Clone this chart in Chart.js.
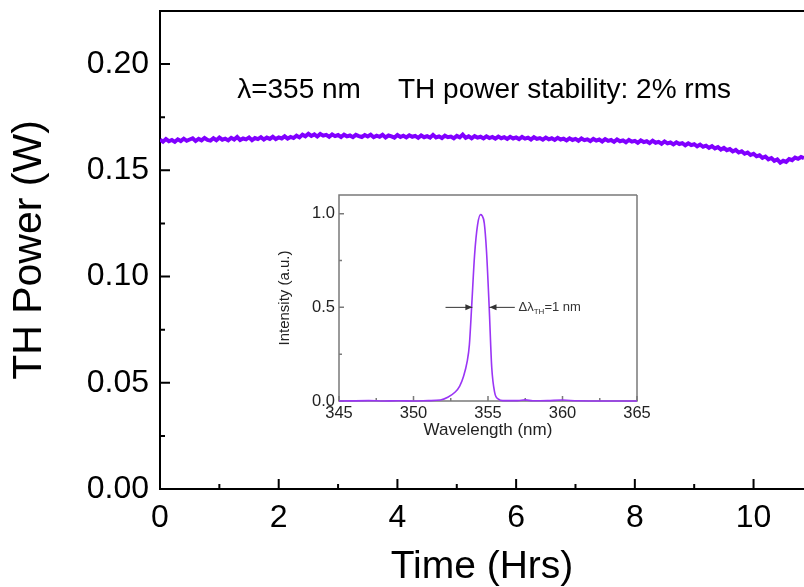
<!DOCTYPE html>
<html>
<head>
<meta charset="utf-8">
<title>TH power stability</title>
<script src="https://cdn.jsdelivr.net/npm/chart.js@4.4.1/dist/chart.umd.min.js"></script>
<style>
    body { margin: 0; background: #fff; overflow: hidden; }
    .wrap { position: relative; width: 804px; height: 587px; }
    .main { position: absolute; left: 0; top: 0; width: 804px; height: 587px; }
    .inset { position: absolute; left: 270px; top: 185px; width: 380px; height: 262px; }
</style>
</head>
<body>
<div class="wrap">
    <div class="main"><canvas id="chart"></canvas></div>
    <div class="inset"><canvas id="inset"></canvas></div>
</div>
<script>
// main curve: TH power over time (read every 0.05 h)
const hours = [0, 0.05, 0.1, 0.15, 0.2, 0.25, 0.3, 0.35, 0.4, 0.45,
    0.5, 0.55, 0.6, 0.65, 0.7, 0.75, 0.8, 0.85, 0.9, 0.95,
    1.0, 1.05, 1.1, 1.15, 1.2, 1.25, 1.3, 1.35, 1.4, 1.45,
    1.5, 1.55, 1.6, 1.65, 1.7, 1.75, 1.8, 1.85, 1.9, 1.95,
    2.0, 2.05, 2.1, 2.15, 2.2, 2.25, 2.3, 2.35, 2.4, 2.45,
    2.5, 2.55, 2.6, 2.65, 2.7, 2.75, 2.8, 2.85, 2.9, 2.95,
    3.0, 3.05, 3.1, 3.15, 3.2, 3.25, 3.3, 3.35, 3.4, 3.45,
    3.5, 3.55, 3.6, 3.65, 3.7, 3.75, 3.8, 3.85, 3.9, 3.95,
    4.0, 4.05, 4.1, 4.15, 4.2, 4.25, 4.3, 4.35, 4.4, 4.45,
    4.5, 4.55, 4.6, 4.65, 4.7, 4.75, 4.8, 4.85, 4.9, 4.95,
    5.0, 5.05, 5.1, 5.15, 5.2, 5.25, 5.3, 5.35, 5.4, 5.45,
    5.5, 5.55, 5.6, 5.65, 5.7, 5.75, 5.8, 5.85, 5.9, 5.95,
    6.0, 6.05, 6.1, 6.15, 6.2, 6.25, 6.3, 6.35, 6.4, 6.45,
    6.5, 6.55, 6.6, 6.65, 6.7, 6.75, 6.8, 6.85, 6.9, 6.95,
    7.0, 7.05, 7.1, 7.15, 7.2, 7.25, 7.3, 7.35, 7.4, 7.45,
    7.5, 7.55, 7.6, 7.65, 7.7, 7.75, 7.8, 7.85, 7.9, 7.95,
    8.0, 8.05, 8.1, 8.15, 8.2, 8.25, 8.3, 8.35, 8.4, 8.45,
    8.5, 8.55, 8.6, 8.65, 8.7, 8.75, 8.8, 8.85, 8.9, 8.95,
    9.0, 9.05, 9.1, 9.15, 9.2, 9.25, 9.3, 9.35, 9.4, 9.45,
    9.5, 9.55, 9.6, 9.65, 9.7, 9.75, 9.8, 9.85, 9.9, 9.95,
    10.0, 10.05, 10.1, 10.15, 10.2, 10.25, 10.3, 10.35, 10.4, 10.45,
    10.5, 10.55, 10.6, 10.65, 10.7, 10.75, 10.8, 10.85];
const thPower = [0.1644, 0.1635, 0.1647, 0.1637, 0.1643, 0.1634, 0.1646, 0.1638, 0.1649, 0.1639,
    0.1645, 0.1651, 0.1638, 0.1648, 0.1641, 0.1652, 0.1643, 0.1640, 0.1651, 0.1642,
    0.1654, 0.1644, 0.1649, 0.1641, 0.1653, 0.1645, 0.1657, 0.1643, 0.1650, 0.1646,
    0.1655, 0.1642, 0.1652, 0.1647, 0.1656, 0.1645, 0.1654, 0.1648, 0.1658, 0.1647,
    0.1655, 0.1650, 0.1660, 0.1649, 0.1657, 0.1652, 0.1663, 0.1655, 0.1668, 0.1660,
    0.1672, 0.1662, 0.1669, 0.1659, 0.1671, 0.1663, 0.1667, 0.1658, 0.1669, 0.1661,
    0.1666, 0.1657, 0.1668, 0.1660, 0.1664, 0.1656, 0.1667, 0.1661, 0.1657, 0.1666,
    0.1659, 0.1668, 0.1656, 0.1663, 0.1658, 0.1667, 0.1655, 0.1664, 0.1660, 0.1654,
    0.1666, 0.1657, 0.1663, 0.1655, 0.1665, 0.1658, 0.1662, 0.1653, 0.1664, 0.1656,
    0.1661, 0.1654, 0.1667, 0.1655, 0.1660, 0.1652, 0.1663, 0.1656, 0.1659, 0.1651,
    0.1662, 0.1655, 0.1668, 0.1653, 0.1660, 0.1651, 0.1661, 0.1654, 0.1658, 0.1650,
    0.1660, 0.1652, 0.1657, 0.1649, 0.1659, 0.1651, 0.1656, 0.1648, 0.1658, 0.1650,
    0.1655, 0.1647, 0.1657, 0.1649, 0.1654, 0.1645, 0.1656, 0.1648, 0.1652, 0.1644,
    0.1654, 0.1646, 0.1651, 0.1643, 0.1653, 0.1645, 0.1649, 0.1641, 0.1651, 0.1643,
    0.1648, 0.1639, 0.1650, 0.1642, 0.1646, 0.1638, 0.1648, 0.1640, 0.1645, 0.1636,
    0.1647, 0.1639, 0.1643, 0.1634, 0.1645, 0.1637, 0.1641, 0.1632, 0.1643, 0.1635,
    0.1639, 0.1630, 0.1641, 0.1633, 0.1637, 0.1628, 0.1639, 0.1630, 0.1634, 0.1625,
    0.1636, 0.1627, 0.1631, 0.1622, 0.1632, 0.1624, 0.1628, 0.1618, 0.1627, 0.1619,
    0.1623, 0.1613, 0.1621, 0.1611, 0.1616, 0.1606, 0.1614, 0.1603, 0.1609, 0.1598,
    0.1606, 0.1595, 0.1600, 0.1589, 0.1596, 0.1584, 0.1590, 0.1578, 0.1584, 0.1572,
    0.1578, 0.1566, 0.1571, 0.1559, 0.1565, 0.1552, 0.1558, 0.1545, 0.1551, 0.1536,
    0.1545, 0.1540, 0.1553, 0.1548, 0.1560, 0.1554, 0.1563, 0.1557];
const hourTicks = [0, 1, 2, 3, 4, 5, 6, 7, 8, 9, 10];
const powerTicks = [0, 0.025, 0.05, 0.075, 0.1, 0.125, 0.15, 0.175, 0.2];

// inset: TH spectrum
const wavelength = [345, 347, 348, 349, 350, 351, 351.8, 352.3, 352.8, 353.1, 353.35, 353.6, 353.75, 353.9,
    354.1, 354.3, 354.5, 354.6, 354.75, 354.9, 355.08, 355.25, 355.45, 355.7, 356,
    357, 357.5, 358, 359, 360, 361, 363, 365];
const intensity = [0, 0.002, 0, 0.001, 0, 0.002, 0.005, 0.02, 0.048, 0.08, 0.13, 0.21, 0.3, 0.5,
    0.78, 0.94, 0.995, 0.99, 0.95, 0.8, 0.5, 0.18, 0.045, 0.01, 0.002,
    0.002, 0.006, 0.001, 0.002, 0.005, 0.001, 0, 0];
const wavelengthTicks = [345, 347.5, 350, 352.5, 355, 357.5, 360, 362.5, 365];
const intensityTicks = [0, 0.25, 0.5, 0.75, 1.0];

const FONT = "'Liberation Sans', Arial, sans-serif";

// ticks pointing into the plot + frame lines
const inwardTicks = {
    id: 'inwardTicks',
    beforeDatasetsDraw(chart, args, opts) {
        const { ctx, chartArea: a, scales } = chart;
        ctx.save();
        ctx.strokeStyle = opts.color;
        ctx.lineWidth = opts.width;
        ctx.beginPath();
        scales.x.ticks.forEach(t => {
            const x = scales.x.getPixelForValue(t.value);
            const len = t.label !== '' ? opts.major : opts.minor;
            ctx.moveTo(x, a.bottom);
            ctx.lineTo(x, a.bottom - len);
        });
        scales.y.ticks.forEach(t => {
            const y = scales.y.getPixelForValue(t.value);
            const len = t.label !== '' ? opts.major : opts.minor;
            ctx.moveTo(a.left, y);
            ctx.lineTo(a.left + len, y);
        });
        ctx.stroke();
        ctx.beginPath();
        ctx.moveTo(a.right, a.top);
        ctx.lineTo(a.left, a.top);
        ctx.lineTo(a.left, a.bottom);
        ctx.lineTo(a.right, a.bottom);
        if (opts.closed) ctx.lineTo(a.right, a.top);
        ctx.stroke();
        ctx.restore();
    }
};

const notes = {
    id: 'notes',
    afterDraw(chart, args, opts) {
        const { ctx, scales } = chart;
        ctx.save();
        ctx.fillStyle = '#000';
        ctx.font = opts.font;
        ctx.textBaseline = 'middle';
        opts.items.forEach(n => {
            ctx.fillText(n.text, scales.x.getPixelForValue(n.x), scales.y.getPixelForValue(n.y));
        });
        ctx.restore();
    }
};

const fwhmArrows = {
    id: 'fwhmArrows',
    afterDatasetsDraw(chart, args, opts) {
        const { ctx, scales } = chart;
        const y = scales.y.getPixelForValue(opts.level);
        const arrow = (from, to) => {
            const x1 = scales.x.getPixelForValue(from);
            const x2 = scales.x.getPixelForValue(to);
            const dir = Math.sign(x2 - x1);
            ctx.beginPath();
            ctx.moveTo(x1, y);
            ctx.lineTo(x2, y);
            ctx.stroke();
            ctx.beginPath();
            ctx.moveTo(x2, y);
            ctx.lineTo(x2 - dir * 7, y - 3);
            ctx.lineTo(x2 - dir * 7, y + 3);
            ctx.closePath();
            ctx.fill();
        };
        ctx.save();
        ctx.strokeStyle = '#333';
        ctx.fillStyle = '#333';
        ctx.lineWidth = 1;
        arrow(opts.left[0], opts.left[1]);
        arrow(opts.right[0], opts.right[1]);
        let x = scales.x.getPixelForValue(opts.textAt);
        ctx.textBaseline = 'middle';
        ctx.font = `13px ${FONT}`;
        ctx.fillText('\u0394\u03bb', x, y);
        x += ctx.measureText('\u0394\u03bb').width;
        ctx.font = `8px ${FONT}`;
        ctx.fillText('TH', x, y + 4);
        x += ctx.measureText('TH').width;
        ctx.font = `13px ${FONT}`;
        ctx.fillText('=1 nm', x, y);
        ctx.restore();
    }
};

// drop the label-overflow padding so the plot frame lands where the layout padding says
const noEdgePadding = s => {
    s.paddingTop = 0;
    s.paddingBottom = 0;
    s.paddingLeft = 0;
    s.paddingRight = 0;
};

const chart = document.querySelector('#chart').getContext('2d');
new Chart(chart, {
    type: 'line',
    data: {
        datasets: [{
            data: hours.map((h, i) => ({ x: h, y: thPower[i] })),
            borderColor: '#8000ff',
            borderWidth: 4,
            pointRadius: 0,
            tension: 0,
            fill: false,
        }]
    },
    options: {
        responsive: true,
        maintainAspectRatio: false,
        animation: false,
        layout: { padding: { top: 11, right: 0, left: 0, bottom: 0 } },
        plugins: {
            legend: { display: false },
            tooltip: { enabled: false },
            inwardTicks: { color: '#000', width: 2, major: 10, minor: 5 },
            notes: {
                font: `28px ${FONT}`,
                items: [
                    { text: '\u03bb=355 nm', x: 1.3, y: 0.1878 },
                    { text: 'TH power stability: 2% rms', x: 4.01, y: 0.1878 },
                ]
            }
        },
        scales: {
            x: {
                type: 'linear',
                min: 0,
                max: 10.85,
                afterBuildTicks: s => { s.ticks = hourTicks.map(v => ({ value: v })); },
                afterFit: s => { s.height = 98; noEdgePadding(s); },
                grid: { display: false, drawTicks: false },
                border: { display: false },
                ticks: {
                    autoSkip: false,
                    maxRotation: 0,
                    padding: 10,
                    color: '#000',
                    font: { family: FONT, size: 32 },
                    callback: v => (v % 2 === 0 ? String(v) : ''),
                },
                title: {
                    display: true,
                    text: 'Time (Hrs)',
                    color: '#000',
                    font: { family: FONT, size: 39, lineHeight: 1 },
                    padding: { top: 0, bottom: 0 },
                },
            },
            y: {
                min: 0,
                max: 0.225,
                afterBuildTicks: s => { s.ticks = powerTicks.map(v => ({ value: v })); },
                afterFit: s => { s.width = 160; noEdgePadding(s); },
                grid: { display: false, drawTicks: false },
                border: { display: false },
                ticks: {
                    padding: 11,
                    color: '#000',
                    font: { family: FONT, size: 32 },
                    callback: (v, i) => (i % 2 === 0 ? v.toFixed(2) : ''),
                },
                title: {
                    display: true,
                    text: 'TH Power (W)',
                    color: '#000',
                    font: { family: FONT, size: 41, lineHeight: 1 },
                    padding: { top: 9, bottom: 0 },
                },
            },
        },
    },
    plugins: [inwardTicks, notes],
});

const inset = document.querySelector('#inset').getContext('2d');
new Chart(inset, {
    type: 'line',
    data: {
        datasets: [{
            data: wavelength.map((w, i) => ({ x: w, y: intensity[i] })),
            borderColor: '#9a35f5',
            borderWidth: 1.6,
            pointRadius: 0,
            cubicInterpolationMode: 'monotone',
            fill: false,
            clip: 4,
        }]
    },
    options: {
        responsive: true,
        maintainAspectRatio: false,
        animation: false,
        layout: { padding: { top: 10, right: 13, left: 0, bottom: 0 } },
        plugins: {
            legend: { display: false },
            tooltip: { enabled: false },
            inwardTicks: { color: '#7a7a7a', width: 1.5, major: 5, minor: 3, closed: true },
            fwhmArrows: { level: 0.5, left: [352.15, 353.95], right: [356.8, 355.1], textAt: 357.05 },
        },
        scales: {
            x: {
                type: 'linear',
                min: 345,
                max: 365,
                afterBuildTicks: s => { s.ticks = wavelengthTicks.map(v => ({ value: v })); },
                afterFit: s => { s.height = 46; noEdgePadding(s); },
                grid: { display: false, drawTicks: false },
                border: { display: false },
                ticks: {
                    autoSkip: false,
                    maxRotation: 0,
                    padding: 3,
                    color: '#222',
                    font: { family: FONT, size: 16.5 },
                    callback: v => (v % 5 === 0 ? String(v) : ''),
                },
                title: {
                    display: true,
                    text: 'Wavelength (nm)',
                    color: '#222',
                    font: { family: FONT, size: 17, lineHeight: 1 },
                    padding: { top: 0, bottom: 8 },
                },
            },
            y: {
                min: 0,
                max: 1.1,
                afterBuildTicks: s => { s.ticks = intensityTicks.map(v => ({ value: v })); },
                afterFit: s => { s.width = 69; noEdgePadding(s); },
                grid: { display: false, drawTicks: false },
                border: { display: false },
                ticks: {
                    padding: 4,
                    color: '#222',
                    font: { family: FONT, size: 16.5 },
                    callback: (v, i) => (i % 2 === 0 ? v.toFixed(1) : ''),
                },
                title: {
                    display: true,
                    text: 'Intensity (a.u.)',
                    color: '#222',
                    font: { family: FONT, size: 15, lineHeight: 1 },
                    padding: { top: 7, bottom: 0 },
                },
            },
        },
    },
    plugins: [inwardTicks, fwhmArrows],
});
</script>
</body>
</html>
